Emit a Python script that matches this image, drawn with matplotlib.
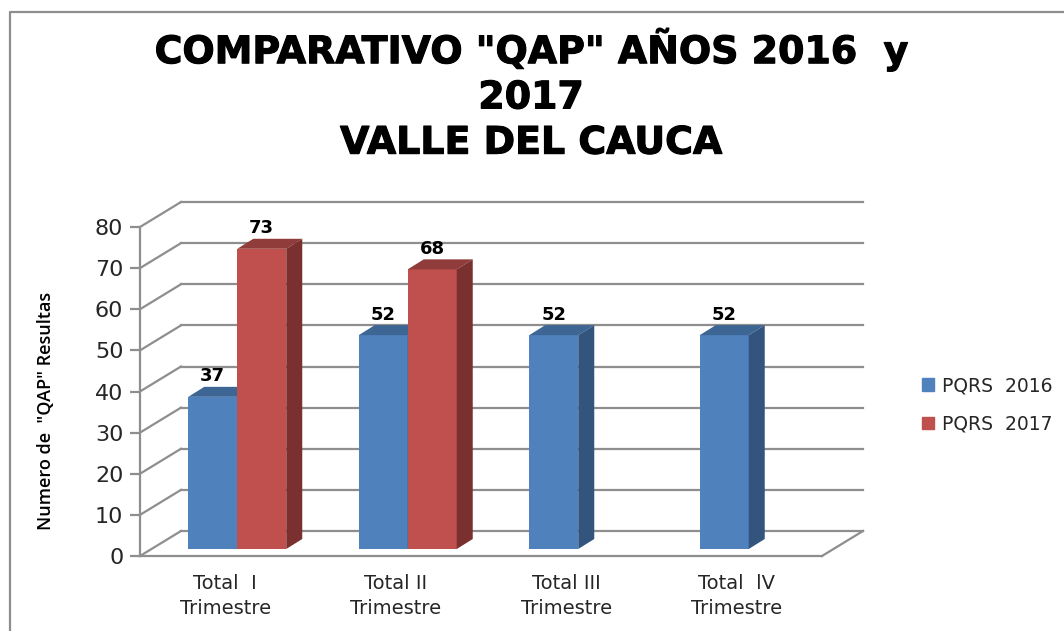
import matplotlib
matplotlib.use("Agg")
import matplotlib.pyplot as plt
import matplotlib.patheffects as pe
from matplotlib.lines import Line2D
from matplotlib.patches import Patch, Polygon

# Data
categories = ["Total  I\nTrimestre", "Total II\nTrimestre", "Total III\nTrimestre", "Total  lV\nTrimestre"]
pqrs_2016 = [37, 52, 52, 52]
pqrs_2017 = [73, 68, None, None]
series_names = ["PQRS  2016", "PQRS  2017"]
y_ticks = [0, 10, 20, 30, 40, 50, 60, 70, 80]
title = 'COMPARATIVO "QAP" AÑOS 2016  y\n2017\nVALLE DEL CAUCA'
y_label = 'Numero de  "QAP" Resultas'

W, H = 1064, 631
GRID = "#8e8e8e"
TEXT = "#262626"
BLUE = ("#4f81bd", "#3e6695", "#33547d")
RED = ("#c0504d", "#8f3c3a", "#7a302e")

fig = plt.figure(figsize=(W / 100, H / 100), dpi=100)
ax = fig.add_axes([140 / W, 1 - 556 / H, 682 / W, 329 / H])
ax.set_xlim(0, 4)
ax.set_ylim(0, 80)
ax.patch.set_visible(False)

# pixel sizes turned into data units for the fake 3D depth
px_x = 4 / 682
px_y = 80 / 329
wall_dx, wall_dy = 41 * px_x, 25 * px_y
bar_dx, bar_dy = 16 * px_x, 10 * px_y
base_dx, base_dy = 12 * px_x, 7 * px_y
bar_w = 49 * px_x

# back wall and side wall lines
for v in y_ticks:
    ax.plot([wall_dx, 4 + wall_dx], [v + wall_dy, v + wall_dy], color=GRID, lw=1.6, clip_on=False, zorder=1)
    ax.plot([0, wall_dx], [v, v + wall_dy], color=GRID, lw=1.6, clip_on=False, zorder=1)
ax.plot([4, 4 + wall_dx], [0, wall_dy], color=GRID, lw=1.6, clip_on=False, zorder=1)


def draw_bar(x0, value, colors, z):
    y0 = base_dy
    y1 = value + base_dy
    x1 = x0 + bar_w
    ax.bar(x0, value, bottom=y0, width=bar_w, align="edge", color=colors[0], clip_on=False, zorder=z)
    ax.add_patch(Polygon([(x0, y1), (x1, y1), (x1 + bar_dx, y1 + bar_dy), (x0 + bar_dx, y1 + bar_dy)],
                         color=colors[1], lw=0, clip_on=False, zorder=z))
    ax.add_patch(Polygon([(x1, y0), (x1 + bar_dx, y0 + bar_dy), (x1 + bar_dx, y1 + bar_dy), (x1, y1)],
                         color=colors[2], lw=0, clip_on=False, zorder=z))
    ax.text(x0 + bar_w / 2, y1 + bar_dy + 0.4, str(value), ha="center", va="bottom",
            fontsize=13, fontweight="bold", color="black", zorder=5)


for i in range(len(categories)):
    left = i + 0.5 + base_dx - bar_w
    draw_bar(left, pqrs_2016[i], BLUE, 3)
    if pqrs_2017[i] is not None:
        draw_bar(left + bar_w, pqrs_2017[i], RED, 4)

for s in ["top", "right"]:
    ax.spines[s].set_visible(False)
for s in ["left", "bottom"]:
    ax.spines[s].set_color(GRID)
    ax.spines[s].set_linewidth(1.6)

ax.set_yticks(y_ticks)
ax.tick_params(axis="y", length=7, width=1.6, color=GRID, labelsize=16, labelcolor=TEXT, pad=5)
ax.set_xticks([i + 0.5 for i in range(len(categories))])
ax.set_xticklabels(categories, fontsize=14, color=TEXT, linespacing=1.42)
ax.tick_params(axis="x", length=0, pad=13)

fig.text(46 / W, 1 - 411 / H, y_label, rotation=90, ha="center", va="center",
         fontsize=13, family="Open Sans", fontweight="semibold", color="black")
fig.text(531 / W, 1 - 95 / H, title, ha="center", va="center", fontsize=27.3,
         fontweight="bold", color="black", linespacing=1.33,
         path_effects=[pe.withStroke(linewidth=0.8, foreground="black")])

handles = [Patch(color=BLUE[0]), Patch(color=RED[0])]
fig.legend(handles, series_names, loc="center left", bbox_to_anchor=(905 / W, 1 - 405 / H), frameon=False,
           fontsize=13.5, labelcolor=TEXT, handlelength=0.64, handleheight=0.64, handletextpad=0.43,
           labelspacing=1.05)

# chart frame, open to the right and bottom of the crop
fig.add_artist(Line2D([9.5 / W, 9.5 / W, 1], [0, 1 - 12 / H, 1 - 12 / H], color=GRID, lw=1.6))

fig.savefig("out.png", dpi=100)
